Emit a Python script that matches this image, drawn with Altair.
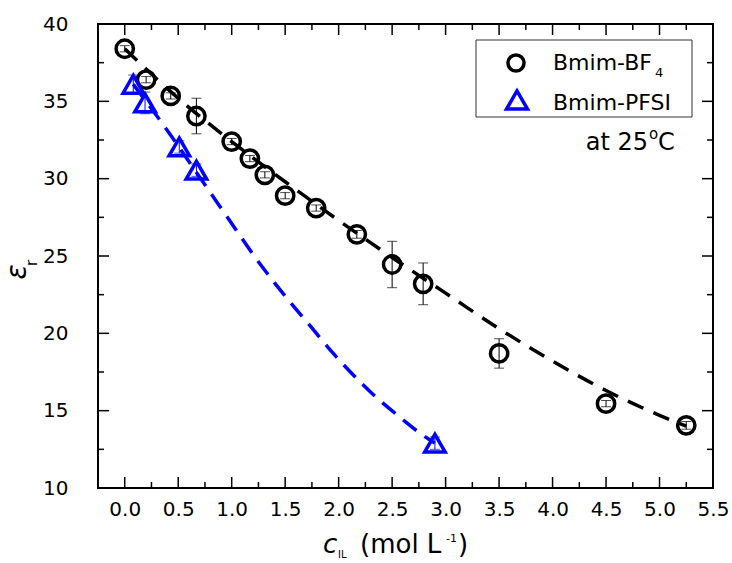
import altair as alt
import pandas as pd

FONT = "DejaVu Sans"

# Bmim-BF4: concentration (mol/L), relative permittivity, error half-width
bf4_c = [0.0, 0.2, 0.43, 0.67, 1.0, 1.17, 1.31, 1.5, 1.79, 2.17, 2.5, 2.79, 3.5, 4.5, 5.25]
bf4_eps = [38.4, 36.4, 35.35, 34.05, 32.4, 31.3, 30.25, 28.9, 28.1, 26.4, 24.45, 23.2, 18.7, 15.45, 14.05]
bf4_err = [0.2, 0.2, 0.2, 1.15, 0.2, 0.2, 0.2, 0.2, 0.2, 0.25, 1.5, 1.35, 0.95, 0.2, 0.25]

# Bmim-PFSI
pfsi_c = [0.08, 0.19, 0.51, 0.67, 2.9]
pfsi_eps = [36.1, 34.9, 32.05, 30.55, 12.9]
pfsi_err = [0.6, 0.7, 0.4, 0.4, 0.4]

# fitted curves (dashed)
bf4_fit_c = [0.0, 0.5, 1.0, 1.5, 2.0, 2.5, 3.0, 3.5, 4.0, 4.5, 5.0, 5.25]
bf4_fit_eps = [38.4, 35.2, 32.4, 29.8, 27.3, 24.9, 22.6, 20.3, 18.2, 16.3, 14.7, 14.0]
pfsi_fit_c = [0.08, 0.4, 0.7, 0.87, 1.03, 1.2, 1.38, 1.56, 1.75, 1.95, 2.11, 2.33, 2.56, 2.79, 2.9]
pfsi_fit_eps = [36.1, 33.1, 30.1, 28.4, 26.8, 25.1, 23.45, 21.9, 20.35, 18.7, 17.5, 16.0, 14.65, 13.4, 12.9]

# axis ticks
x_major = [0.0, 0.5, 1.0, 1.5, 2.0, 2.5, 3.0, 3.5, 4.0, 4.5, 5.0, 5.5]
x_minor = [0.25, 0.75, 1.25, 1.75, 2.25, 2.75, 3.25, 3.75, 4.25, 4.75, 5.25]
y_major = [10, 15, 20, 25, 30, 35, 40]
y_minor = [12.5, 17.5, 22.5, 27.5, 32.5, 37.5]

W, H = 615, 464

xs = alt.Scale(domain=[-0.25, 5.5], nice=False, zero=False)
ys = alt.Scale(domain=[10, 40], nice=False, zero=False)

# label-only axes; the frame and the inward ticks are drawn as marks
ax_x = alt.Axis(values=x_major, format=".1f", ticks=False, domain=False, grid=False, labelFlush=False,
                labelFontSize=20, labelFont=FONT, labelColor="black", labelPadding=11)
ax_y = alt.Axis(values=y_major, format="d", ticks=False, domain=False, grid=False, labelFlush=False,
                labelFontSize=20, labelFont=FONT, labelColor="black", labelPadding=30)

X = lambda f: alt.X(f, type="quantitative", scale=xs, axis=ax_x, title=None)
Y = lambda f: alt.Y(f, type="quantitative", scale=ys, axis=ax_y, title=None)

bf4 = pd.DataFrame({"c": bf4_c, "eps": bf4_eps, "err": bf4_err})
bf4["lo"] = bf4["eps"] - bf4["err"]
bf4["hi"] = bf4["eps"] + bf4["err"]
pfsi = pd.DataFrame({"c": pfsi_c, "eps": pfsi_eps, "err": pfsi_err})
pfsi["lo"] = pfsi["eps"] - pfsi["err"]
pfsi["hi"] = pfsi["eps"] + pfsi["err"]
bf4_fit = pd.DataFrame({"c": bf4_fit_c, "eps": bf4_fit_eps})
pfsi_fit = pd.DataFrame({"c": pfsi_fit_c, "eps": pfsi_fit_eps})


def yticks(vals, length):
    d = pd.DataFrame({"v": vals})
    left = alt.Chart(d).mark_rule(color="black", strokeWidth=1.5).encode(
        y=Y("v"), x=alt.value(0), x2=alt.value(length))
    right = alt.Chart(d).mark_rule(color="black", strokeWidth=1.5).encode(
        y=Y("v"), x=alt.value(W), x2=alt.value(W - length))
    return left + right


def xticks(vals, length):
    d = pd.DataFrame({"v": vals})
    bottom = alt.Chart(d).mark_rule(color="black", strokeWidth=1.5).encode(
        x=X("v"), y=alt.value(H), y2=alt.value(H - length))
    top = alt.Chart(d).mark_rule(color="black", strokeWidth=1.5).encode(
        x=X("v"), y=alt.value(0), y2=alt.value(length))
    return bottom + top


ticks = yticks(y_major, 11) + yticks(y_minor, 6) + xticks(x_major, 11) + xticks(x_minor, 6)


def errorbars(df, color):
    bar = alt.Chart(df).mark_rule(color=color, strokeWidth=1).encode(x=X("c"), y=Y("lo"), y2=alt.Y2("hi"))
    cap_lo = alt.Chart(df).mark_tick(color=color, orient="horizontal", size=10, thickness=1).encode(x=X("c"), y=Y("lo"))
    cap_hi = alt.Chart(df).mark_tick(color=color, orient="horizontal", size=10, thickness=1).encode(x=X("c"), y=Y("hi"))
    return bar + cap_lo + cap_hi


bf4_line = alt.Chart(bf4_fit).mark_line(color="black", strokeWidth=3.5, strokeDash=[17, 11],
                                        interpolate="monotone").encode(x=X("c"), y=Y("eps"))
pfsi_line = alt.Chart(pfsi_fit).mark_line(color="#0000FF", strokeWidth=3.5, strokeDash=[17, 10],
                                          interpolate="monotone").encode(x=X("c"), y=Y("eps"))

bf4_pts = alt.Chart(bf4).mark_point(shape="circle", filled=False, size=300, strokeWidth=3.5,
                                    color="black", opacity=1).encode(x=X("c"), y=Y("eps"))
pfsi_pts = alt.Chart(pfsi).mark_point(shape="triangle-up", filled=False, size=420, strokeWidth=3.5,
                                      color="#0000FF", opacity=1).encode(x=X("c"), y=Y("eps"))

one = pd.DataFrame({"k": [0]})


def label(txt, x, y, size, align="left", baseline="alphabetic", **kw):
    return alt.Chart(one).mark_text(text=txt, fontSize=size, font=FONT, color="black",
                                    align=align, baseline=baseline, **kw).encode(
        x=alt.value(x), y=alt.value(y))


# legend box
legend_box = alt.Chart(one).mark_rect(fill="white", stroke="#333333", strokeWidth=1).encode(
    x=alt.value(378), x2=alt.value(594), y=alt.value(16), y2=alt.value(93))
legend_circle = alt.Chart(one).mark_point(shape="circle", filled=False, size=260, strokeWidth=3.5,
                                          color="black", opacity=1).encode(x=alt.value(418), y=alt.value(39))
legend_tri = alt.Chart(one).mark_point(shape="triangle-up", filled=False, size=440, strokeWidth=3.5,
                                       color="#0000FF", opacity=1).encode(x=alt.value(419), y=alt.value(76))
legend = (legend_box + legend_circle + legend_tri
          + label("Bmim-BF", 455, 46, 22) + label("4", 557, 53, 13)
          + label("Bmim-PFSI", 455, 86, 22))

temp = label("at 25", 550, 126, 24, align="right") + label("o", 551, 115, 15) + label("C", 560, 126, 24)

x_title = (label("c", 225, 529, 26, fontStyle="italic") + label("IL", 240, 534, 10)
           + label("(mol L", 262, 529, 26)
           + label("-1", 348, 518, 11) + label(")", 360, 529, 26))

y_title = (label("ε", -80, 248, 28, align="center", baseline="middle", angle=270, fontStyle="italic")
           + label("r", -66, 239, 15, align="center", baseline="middle", angle=270))

chart = alt.layer(
    ticks,
    errorbars(bf4, "black"), errorbars(pfsi, "#0000FF"),
    bf4_line, pfsi_line, bf4_pts, pfsi_pts,
    legend, temp, x_title, y_title,
).properties(
    width=W, height=H,
    autosize=alt.AutoSizeParams(type="none"),
    padding={"left": 98, "top": 24, "right": 19, "bottom": 75},
).configure_view(stroke="black", strokeWidth=2)

chart.save("out.html", embed_options={"renderer": "svg", "actions": False})
